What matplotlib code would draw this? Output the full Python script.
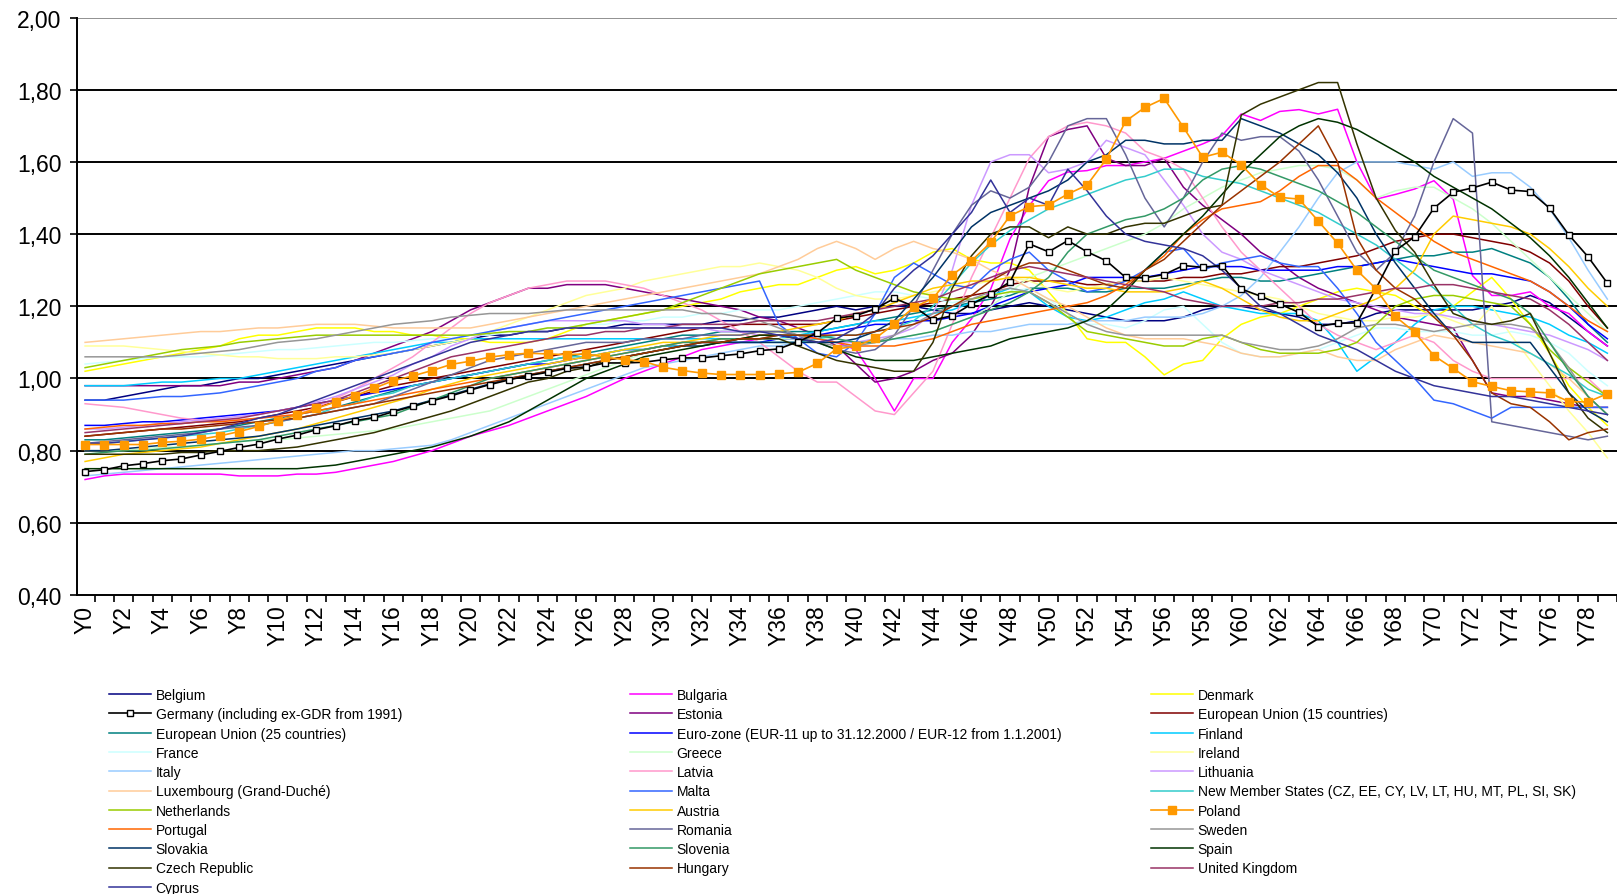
import numpy as np
import matplotlib
matplotlib.use("Agg")
import matplotlib.pyplot as plt

plt.rcParams['font.family'] = ['Liberation Sans', 'DejaVu Sans']

# categories
years = ["Y" + str(i) for i in range(80)]
ytick_vals = [0.40, 0.60, 0.80, 1.00, 1.20, 1.40, 1.60, 1.80, 2.00]
ytick_labels = ["0,40", "0,60", "0,80", "1,00", "1,20", "1,40", "1,60", "1,80", "2,00"]

# series values
belgium = [0.94,0.94,0.95,0.96,0.97,0.98,0.98,0.99,1.00,1.00,
           1.01,1.02,1.03,1.04,1.05,1.06,1.07,1.08,1.09,1.10,
           1.11,1.12,1.12,1.13,1.13,1.14,1.14,1.14,1.15,1.15,
           1.15,1.15,1.15,1.16,1.16,1.17,1.17,1.18,1.19,1.20,
           1.19,1.20,1.20,1.20,1.19,1.18,1.18,1.19,1.20,1.21,
           1.20,1.19,1.18,1.17,1.16,1.16,1.16,1.17,1.19,1.20,
           1.20,1.19,1.18,1.17,1.15,1.15,1.16,1.18,1.19,1.19,
           1.19,1.19,1.19,1.20,1.21,1.23,1.21,1.17,1.13,1.09]
bulgaria = [0.72,0.73,0.735,0.735,0.735,0.735,0.735,0.735,0.73,0.73,
            0.73,0.735,0.735,0.74,0.75,0.76,0.77,0.785,0.80,0.82,
            0.84,0.855,0.87,0.89,0.91,0.93,0.95,0.975,1.00,1.02,
            1.04,1.06,1.08,1.09,1.10,1.11,1.11,1.12,1.11,1.10,
            1.08,1.00,0.91,1.00,1.00,1.10,1.165,1.248,1.387,1.479,
            1.548,1.572,1.576,1.59,1.59,1.60,1.61,1.63,1.65,1.673,
            1.733,1.715,1.74,1.745,1.733,1.746,1.60,1.497,1.51,1.525,
            1.548,1.497,1.285,1.23,1.23,1.24,1.20,1.18,1.13,1.09]
denmark = [1.02,1.03,1.04,1.05,1.06,1.07,1.08,1.09,1.11,1.12,
           1.12,1.13,1.14,1.14,1.14,1.13,1.13,1.12,1.12,1.11,
           1.11,1.10,1.10,1.10,1.11,1.13,1.15,1.16,1.17,1.18,
           1.19,1.20,1.21,1.22,1.24,1.25,1.26,1.26,1.28,1.30,
           1.31,1.29,1.30,1.32,1.35,1.36,1.33,1.32,1.32,1.30,
           1.24,1.18,1.11,1.10,1.10,1.06,1.01,1.04,1.05,1.11,
           1.15,1.17,1.18,1.20,1.22,1.24,1.25,1.24,1.23,1.20,
           1.17,1.20,1.24,1.28,1.22,1.15,1.07,0.98,0.92,0.87]
germany = [0.742,0.747,0.758,0.764,0.772,0.777,0.788,0.798,0.809,0.818,
           0.832,0.843,0.858,0.869,0.883,0.892,0.908,0.923,0.938,0.952,
           0.968,0.983,0.996,1.008,1.017,1.028,1.032,1.043,1.043,1.045,
           1.052,1.057,1.057,1.063,1.068,1.077,1.082,1.102,1.126,1.167,
           1.174,1.193,1.222,1.200,1.162,1.174,1.206,1.233,1.268,1.373,
           1.351,1.382,1.351,1.326,1.280,1.279,1.288,1.313,1.308,1.313,
           1.248,1.228,1.206,1.183,1.144,1.153,1.154,1.250,1.354,1.393,
           1.472,1.516,1.528,1.544,1.522,1.518,1.472,1.398,1.337,1.264]
estonia = [0.98,0.98,0.98,0.98,0.98,0.98,0.98,0.98,0.99,0.99,
           1.00,1.01,1.02,1.03,1.05,1.07,1.09,1.11,1.13,1.16,
           1.19,1.21,1.23,1.25,1.25,1.26,1.26,1.26,1.25,1.24,
           1.23,1.22,1.21,1.20,1.19,1.17,1.16,1.14,1.12,1.09,
           1.04,0.99,1.00,1.02,1.05,1.07,1.12,1.20,1.30,1.53,
           1.67,1.69,1.70,1.61,1.59,1.59,1.61,1.53,1.48,1.44,
           1.40,1.35,1.32,1.28,1.25,1.23,1.21,1.19,1.17,1.16,
           1.15,1.14,1.05,0.96,0.95,0.95,0.94,0.93,0.92,0.92]
eu15 = [0.84,0.845,0.85,0.855,0.86,0.865,0.87,0.875,0.88,0.89,
        0.90,0.91,0.92,0.935,0.95,0.965,0.98,0.99,1.00,1.01,
        1.02,1.03,1.04,1.05,1.06,1.07,1.08,1.09,1.10,1.11,
        1.12,1.13,1.14,1.14,1.15,1.15,1.15,1.15,1.15,1.16,
        1.17,1.18,1.19,1.20,1.21,1.22,1.23,1.24,1.26,1.27,
        1.27,1.27,1.26,1.26,1.27,1.27,1.27,1.28,1.28,1.29,
        1.29,1.30,1.31,1.31,1.32,1.33,1.34,1.36,1.38,1.39,
        1.40,1.40,1.39,1.38,1.37,1.35,1.32,1.27,1.20,1.14]
eu25 = [0.83,0.83,0.835,0.84,0.845,0.85,0.855,0.86,0.87,0.88,
        0.89,0.90,0.91,0.92,0.935,0.95,0.965,0.98,0.99,1.00,
        1.01,1.02,1.03,1.04,1.05,1.06,1.07,1.08,1.09,1.10,
        1.11,1.12,1.12,1.13,1.13,1.13,1.13,1.13,1.13,1.14,
        1.15,1.16,1.17,1.18,1.19,1.20,1.21,1.22,1.23,1.25,
        1.25,1.25,1.24,1.24,1.25,1.25,1.25,1.26,1.27,1.28,
        1.28,1.27,1.27,1.28,1.29,1.30,1.31,1.32,1.33,1.34,
        1.34,1.35,1.35,1.36,1.34,1.32,1.28,1.22,1.15,1.10]
eurozone = [0.87,0.87,0.875,0.88,0.88,0.885,0.89,0.895,0.90,0.905,
            0.91,0.92,0.93,0.94,0.95,0.96,0.97,0.98,0.99,1.00,
            1.01,1.02,1.03,1.04,1.04,1.05,1.06,1.07,1.08,1.08,
            1.09,1.09,1.10,1.10,1.10,1.10,1.11,1.11,1.12,1.13,
            1.14,1.15,1.15,1.16,1.16,1.17,1.18,1.20,1.22,1.24,
            1.25,1.26,1.28,1.28,1.28,1.28,1.29,1.30,1.31,1.31,
            1.31,1.30,1.30,1.30,1.30,1.31,1.31,1.32,1.33,1.32,
            1.31,1.30,1.29,1.29,1.28,1.27,1.24,1.20,1.15,1.11]
finland = [0.98,0.98,0.98,0.985,0.99,0.99,0.995,1.00,1.00,1.01,
           1.02,1.03,1.04,1.05,1.06,1.07,1.08,1.09,1.10,1.10,
           1.11,1.11,1.11,1.11,1.11,1.11,1.11,1.11,1.11,1.11,
           1.11,1.11,1.11,1.11,1.11,1.11,1.11,1.12,1.13,1.14,
           1.15,1.16,1.16,1.17,1.18,1.19,1.21,1.23,1.25,1.24,
           1.20,1.17,1.16,1.17,1.19,1.21,1.22,1.24,1.22,1.20,
           1.19,1.18,1.18,1.18,1.16,1.10,1.02,1.06,1.10,1.15,
           1.19,1.20,1.20,1.19,1.18,1.17,1.15,1.12,1.10,1.07]
france = [1.04,1.045,1.05,1.055,1.06,1.06,1.06,1.065,1.07,1.075,
          1.08,1.08,1.085,1.09,1.095,1.10,1.10,1.105,1.11,1.11,
          1.12,1.12,1.13,1.13,1.14,1.14,1.15,1.15,1.16,1.16,
          1.17,1.17,1.18,1.18,1.19,1.19,1.19,1.20,1.21,1.22,
          1.23,1.24,1.24,1.23,1.22,1.21,1.22,1.23,1.24,1.25,
          1.22,1.18,1.15,1.15,1.14,1.16,1.19,1.20,1.15,1.10,
          1.07,1.06,1.06,1.07,1.08,1.10,1.12,1.14,1.14,1.13,
          1.13,1.13,1.12,1.12,1.13,1.12,1.10,1.07,1.02,0.98]
greece = [0.80,0.80,0.80,0.805,0.81,0.81,0.815,0.82,0.825,0.83,
          0.83,0.835,0.84,0.845,0.85,0.855,0.86,0.87,0.88,0.89,
          0.90,0.91,0.93,0.95,0.97,0.99,1.01,1.03,1.05,1.07,
          1.08,1.09,1.10,1.10,1.11,1.11,1.11,1.11,1.11,1.11,
          1.10,1.10,1.11,1.12,1.13,1.15,1.17,1.20,1.24,1.28,
          1.30,1.32,1.34,1.36,1.38,1.40,1.43,1.47,1.50,1.53,
          1.55,1.57,1.58,1.59,1.59,1.58,1.55,1.50,1.52,1.53,
          1.53,1.50,1.47,1.43,1.38,1.33,1.28,1.23,1.18,1.13]
ireland = [1.09,1.09,1.09,1.085,1.08,1.075,1.07,1.065,1.06,1.06,
           1.055,1.055,1.055,1.06,1.06,1.065,1.07,1.08,1.09,1.10,
           1.11,1.13,1.15,1.17,1.19,1.21,1.23,1.24,1.25,1.27,
           1.28,1.29,1.30,1.31,1.31,1.32,1.31,1.30,1.28,1.25,
           1.23,1.22,1.22,1.23,1.24,1.25,1.26,1.27,1.28,1.27,
           1.25,1.24,1.25,1.26,1.27,1.27,1.28,1.27,1.26,1.25,
           1.24,1.23,1.22,1.20,1.18,1.17,1.16,1.16,1.17,1.17,
           1.18,1.16,1.14,1.20,1.12,1.05,0.98,0.91,0.85,0.78]
italy = [0.73,0.735,0.74,0.745,0.75,0.755,0.76,0.765,0.77,0.775,
         0.78,0.785,0.79,0.795,0.80,0.80,0.805,0.81,0.815,0.83,
         0.85,0.87,0.89,0.91,0.93,0.95,0.97,0.99,1.01,1.03,
         1.04,1.05,1.06,1.07,1.08,1.09,1.09,1.10,1.10,1.10,
         1.10,1.10,1.11,1.11,1.12,1.12,1.13,1.13,1.14,1.15,
         1.15,1.15,1.16,1.16,1.16,1.17,1.17,1.17,1.18,1.20,
         1.23,1.28,1.35,1.42,1.50,1.57,1.60,1.60,1.60,1.59,
         1.58,1.60,1.56,1.57,1.57,1.53,1.47,1.39,1.30,1.22]
latvia = [0.93,0.925,0.92,0.91,0.90,0.89,0.885,0.885,0.885,0.89,
          0.895,0.90,0.92,0.945,0.97,1.00,1.03,1.06,1.10,1.14,
          1.18,1.21,1.23,1.25,1.26,1.27,1.27,1.27,1.26,1.25,
          1.23,1.21,1.19,1.16,1.13,1.10,1.06,1.02,0.99,0.99,
          0.95,0.91,0.90,0.96,1.02,1.15,1.28,1.39,1.50,1.61,
          1.67,1.70,1.71,1.70,1.68,1.63,1.61,1.58,1.50,1.42,
          1.35,1.30,1.25,1.20,1.15,1.12,1.10,1.08,1.10,1.12,
          1.10,1.05,1.02,1.00,1.00,1.00,1.00,1.00,1.00,0.95]
lithuania = [0.86,0.86,0.865,0.87,0.875,0.88,0.885,0.89,0.895,0.90,
             0.91,0.92,0.935,0.95,0.97,0.99,1.01,1.04,1.06,1.09,
             1.11,1.13,1.14,1.15,1.16,1.16,1.16,1.16,1.16,1.15,
             1.15,1.14,1.14,1.13,1.13,1.12,1.12,1.11,1.11,1.10,
             1.10,1.11,1.12,1.14,1.18,1.30,1.48,1.60,1.62,1.62,
             1.57,1.58,1.60,1.66,1.64,1.62,1.55,1.48,1.40,1.35,
             1.33,1.30,1.28,1.26,1.24,1.22,1.21,1.20,1.19,1.18,
             1.18,1.17,1.16,1.15,1.14,1.13,1.12,1.10,1.08,1.05]
luxembourg = [1.10,1.105,1.11,1.115,1.12,1.125,1.13,1.13,1.135,1.14,
              1.14,1.145,1.15,1.15,1.15,1.145,1.14,1.14,1.14,1.14,
              1.14,1.15,1.16,1.17,1.18,1.19,1.20,1.21,1.22,1.23,
              1.24,1.25,1.26,1.27,1.28,1.29,1.31,1.33,1.36,1.38,
              1.36,1.33,1.36,1.38,1.36,1.35,1.33,1.30,1.28,1.25,
              1.22,1.20,1.17,1.14,1.12,1.11,1.11,1.11,1.10,1.09,
              1.07,1.06,1.06,1.07,1.08,1.06,1.05,1.05,1.08,1.10,
              1.12,1.11,1.10,1.09,1.08,1.07,1.04,1.00,0.95,0.90]
malta = [0.94,0.94,0.94,0.945,0.95,0.95,0.955,0.96,0.97,0.98,
         0.99,1.00,1.02,1.03,1.05,1.06,1.07,1.08,1.10,1.11,
         1.12,1.13,1.14,1.15,1.16,1.17,1.18,1.19,1.20,1.21,
         1.22,1.23,1.24,1.25,1.26,1.27,1.15,1.11,1.07,1.06,
         1.10,1.18,1.28,1.32,1.29,1.26,1.25,1.30,1.33,1.35,
         1.30,1.27,1.24,1.25,1.27,1.30,1.35,1.36,1.30,1.32,
         1.33,1.34,1.32,1.31,1.31,1.25,1.18,1.10,1.05,1.00,
         0.94,0.93,0.91,0.89,0.92,0.92,0.92,0.92,0.92,0.92]
nms = [0.82,0.82,0.825,0.83,0.835,0.84,0.845,0.85,0.86,0.87,
       0.88,0.89,0.90,0.92,0.93,0.95,0.96,0.98,0.99,1.00,
       1.01,1.02,1.03,1.04,1.05,1.06,1.06,1.07,1.08,1.08,
       1.09,1.09,1.10,1.10,1.10,1.10,1.10,1.10,1.11,1.12,
       1.12,1.13,1.14,1.16,1.20,1.26,1.32,1.37,1.41,1.44,
       1.47,1.49,1.51,1.53,1.55,1.56,1.58,1.58,1.56,1.55,
       1.54,1.52,1.50,1.48,1.46,1.43,1.40,1.37,1.33,1.29,
       1.25,1.20,1.15,1.12,1.10,1.07,1.04,1.01,0.97,0.95]
netherlands = [1.03,1.04,1.05,1.06,1.07,1.08,1.085,1.09,1.10,1.105,
               1.11,1.115,1.12,1.12,1.12,1.12,1.12,1.12,1.12,1.12,
               1.12,1.125,1.13,1.13,1.14,1.14,1.15,1.16,1.17,1.18,
               1.19,1.21,1.23,1.25,1.27,1.29,1.30,1.31,1.32,1.33,
               1.30,1.28,1.26,1.24,1.23,1.22,1.22,1.23,1.24,1.24,
               1.21,1.17,1.13,1.12,1.11,1.10,1.09,1.09,1.11,1.12,
               1.10,1.08,1.07,1.07,1.07,1.08,1.10,1.15,1.20,1.22,
               1.23,1.23,1.22,1.21,1.20,1.15,1.08,1.03,0.99,0.95]
austria = [0.77,0.78,0.79,0.795,0.80,0.805,0.81,0.82,0.83,0.84,
           0.85,0.86,0.875,0.89,0.905,0.92,0.935,0.95,0.97,0.985,
           1.00,1.01,1.02,1.03,1.04,1.05,1.06,1.07,1.08,1.09,
           1.10,1.10,1.11,1.12,1.12,1.13,1.13,1.14,1.15,1.16,
           1.18,1.19,1.21,1.23,1.25,1.26,1.27,1.27,1.28,1.28,
           1.27,1.26,1.25,1.25,1.24,1.24,1.24,1.25,1.27,1.25,
           1.22,1.19,1.17,1.16,1.16,1.18,1.20,1.22,1.25,1.30,
           1.40,1.45,1.44,1.43,1.42,1.40,1.36,1.31,1.25,1.20]
poland = [0.817,0.817,0.817,0.817,0.823,0.826,0.832,0.841,0.853,0.867,
          0.883,0.899,0.917,0.935,0.952,0.973,0.994,1.007,1.022,1.039,
          1.048,1.059,1.066,1.070,1.068,1.066,1.068,1.059,1.052,1.047,
          1.031,1.022,1.015,1.011,1.011,1.011,1.013,1.017,1.042,1.082,
          1.089,1.111,1.151,1.197,1.222,1.287,1.326,1.377,1.451,1.476,
          1.481,1.511,1.536,1.608,1.713,1.751,1.776,1.696,1.613,1.627,
          1.592,1.537,1.502,1.497,1.436,1.375,1.300,1.248,1.172,1.128,
          1.063,1.028,0.991,0.978,0.966,0.963,0.960,0.936,0.935,0.958]
portugal = [0.86,0.865,0.87,0.87,0.875,0.875,0.88,0.88,0.885,0.89,
            0.895,0.90,0.91,0.92,0.93,0.94,0.95,0.96,0.97,0.98,
            0.99,1.00,1.01,1.02,1.03,1.04,1.05,1.06,1.07,1.08,
            1.09,1.10,1.10,1.11,1.11,1.12,1.12,1.12,1.11,1.10,
            1.09,1.09,1.09,1.10,1.11,1.13,1.15,1.16,1.17,1.18,
            1.19,1.20,1.21,1.23,1.26,1.30,1.34,1.40,1.44,1.47,
            1.48,1.49,1.52,1.56,1.59,1.59,1.55,1.50,1.46,1.42,
            1.38,1.35,1.33,1.31,1.29,1.27,1.24,1.20,1.16,1.13]
romania = [0.82,0.825,0.83,0.835,0.84,0.845,0.85,0.86,0.865,0.87,
           0.88,0.89,0.90,0.91,0.92,0.93,0.95,0.97,0.99,1.01,
           1.03,1.05,1.06,1.07,1.08,1.09,1.10,1.10,1.10,1.11,
           1.11,1.11,1.12,1.12,1.12,1.13,1.13,1.12,1.10,1.08,
           1.07,1.08,1.12,1.20,1.30,1.40,1.48,1.52,1.50,1.53,
           1.60,1.70,1.72,1.72,1.62,1.50,1.42,1.50,1.60,1.68,
           1.66,1.67,1.67,1.63,1.55,1.45,1.35,1.30,1.35,1.45,
           1.60,1.72,1.68,0.88,0.87,0.86,0.85,0.84,0.83,0.84]
sweden = [1.06,1.06,1.06,1.06,1.06,1.065,1.07,1.075,1.08,1.09,
          1.10,1.105,1.11,1.12,1.13,1.14,1.15,1.155,1.16,1.17,
          1.175,1.18,1.18,1.18,1.185,1.19,1.19,1.19,1.19,1.19,
          1.19,1.19,1.18,1.18,1.17,1.16,1.14,1.12,1.10,1.09,
          1.09,1.10,1.12,1.15,1.18,1.20,1.22,1.24,1.25,1.24,
          1.21,1.18,1.15,1.13,1.12,1.12,1.12,1.12,1.12,1.12,
          1.10,1.09,1.08,1.08,1.09,1.11,1.14,1.15,1.15,1.14,
          1.13,1.14,1.15,1.15,1.15,1.14,1.10,1.03,0.95,0.90]
slovakia = [0.80,0.80,0.805,0.81,0.815,0.82,0.825,0.83,0.835,0.84,
            0.85,0.86,0.87,0.88,0.89,0.90,0.91,0.925,0.94,0.955,
            0.97,0.985,1.00,1.01,1.02,1.03,1.04,1.05,1.06,1.07,
            1.08,1.09,1.09,1.10,1.10,1.10,1.10,1.10,1.10,1.10,
            1.11,1.13,1.16,1.22,1.28,1.35,1.42,1.46,1.48,1.50,
            1.52,1.55,1.60,1.62,1.66,1.66,1.65,1.65,1.66,1.66,
            1.72,1.70,1.68,1.65,1.62,1.57,1.50,1.40,1.32,1.25,
            1.18,1.12,1.10,1.10,1.10,1.10,1.03,0.96,0.91,0.88]
slovenia = [0.79,0.795,0.80,0.80,0.805,0.81,0.815,0.82,0.825,0.83,
            0.84,0.85,0.86,0.87,0.88,0.89,0.90,0.92,0.94,0.96,
            0.98,1.00,1.01,1.02,1.03,1.04,1.05,1.06,1.07,1.08,
            1.09,1.10,1.10,1.11,1.11,1.11,1.12,1.12,1.12,1.11,
            1.10,1.10,1.11,1.12,1.13,1.15,1.17,1.19,1.21,1.24,
            1.28,1.35,1.40,1.42,1.44,1.45,1.47,1.50,1.55,1.58,
            1.59,1.58,1.56,1.54,1.52,1.49,1.46,1.42,1.38,1.34,
            1.30,1.28,1.26,1.24,1.22,1.18,1.10,1.02,0.95,0.90]
spain = [0.75,0.75,0.75,0.75,0.75,0.75,0.75,0.75,0.75,0.75,
         0.75,0.75,0.755,0.76,0.77,0.78,0.79,0.80,0.81,0.825,
         0.84,0.86,0.88,0.91,0.94,0.97,1.00,1.02,1.04,1.06,
         1.07,1.08,1.09,1.10,1.11,1.12,1.12,1.11,1.10,1.08,
         1.06,1.05,1.05,1.05,1.06,1.07,1.08,1.09,1.11,1.12,
         1.13,1.14,1.16,1.19,1.24,1.30,1.35,1.40,1.45,1.51,
         1.57,1.62,1.67,1.70,1.72,1.71,1.69,1.66,1.63,1.60,
         1.56,1.53,1.50,1.47,1.43,1.39,1.34,1.28,1.21,1.14]
czech = [0.79,0.79,0.79,0.79,0.79,0.795,0.795,0.80,0.80,0.80,
         0.805,0.81,0.82,0.83,0.84,0.85,0.865,0.88,0.895,0.91,
         0.93,0.95,0.97,0.99,1.00,1.02,1.03,1.05,1.06,1.07,
         1.08,1.09,1.10,1.10,1.11,1.11,1.11,1.09,1.07,1.05,
         1.04,1.03,1.02,1.02,1.10,1.25,1.34,1.40,1.42,1.42,
         1.39,1.42,1.40,1.40,1.42,1.43,1.43,1.45,1.47,1.48,
         1.73,1.76,1.78,1.80,1.82,1.82,1.65,1.50,1.41,1.35,
         1.26,1.18,1.16,1.15,1.16,1.18,1.07,0.96,0.89,0.85]
hungary = [0.84,0.845,0.85,0.855,0.86,0.86,0.865,0.87,0.875,0.88,
           0.885,0.89,0.90,0.91,0.92,0.93,0.94,0.95,0.96,0.97,
           0.98,0.99,1.00,1.01,1.02,1.03,1.04,1.05,1.06,1.07,
           1.08,1.09,1.10,1.10,1.11,1.11,1.12,1.12,1.12,1.12,
           1.12,1.13,1.14,1.15,1.17,1.20,1.23,1.27,1.30,1.32,
           1.32,1.30,1.28,1.26,1.25,1.30,1.33,1.38,1.43,1.48,
           1.52,1.56,1.60,1.65,1.70,1.60,1.39,1.30,1.25,1.22,
           1.17,1.12,1.05,0.96,0.93,0.92,0.88,0.83,0.85,0.86]
uk = [0.85,0.855,0.86,0.865,0.87,0.875,0.88,0.885,0.89,0.90,
      0.91,0.92,0.93,0.94,0.96,0.98,1.00,1.02,1.04,1.06,
      1.07,1.08,1.09,1.10,1.11,1.12,1.12,1.13,1.13,1.14,
      1.14,1.15,1.15,1.15,1.15,1.16,1.16,1.16,1.16,1.17,
      1.18,1.19,1.20,1.21,1.22,1.24,1.26,1.28,1.30,1.31,
      1.30,1.29,1.28,1.27,1.26,1.25,1.24,1.22,1.21,1.20,
      1.20,1.20,1.21,1.21,1.22,1.22,1.23,1.24,1.25,1.25,
      1.26,1.26,1.25,1.24,1.23,1.22,1.19,1.15,1.10,1.05]
cyprus = [0.82,0.82,0.825,0.83,0.835,0.84,0.85,0.86,0.875,0.89,
          0.90,0.92,0.94,0.96,0.98,1.00,1.02,1.04,1.06,1.08,
          1.10,1.11,1.12,1.13,1.13,1.14,1.14,1.14,1.14,1.14,
          1.14,1.14,1.14,1.14,1.13,1.13,1.12,1.11,1.10,1.11,
          1.14,1.18,1.25,1.30,1.34,1.40,1.46,1.55,1.46,1.50,
          1.48,1.58,1.52,1.45,1.40,1.38,1.37,1.36,1.34,1.30,
          1.25,1.20,1.18,1.15,1.12,1.10,1.08,1.05,1.02,1.00,
          0.98,0.97,0.96,0.95,0.95,0.94,0.93,0.92,0.91,0.90]

# drawing order = legend order read row by row
series = [
    ("Belgium", belgium, "#000080"),
    ("Bulgaria", bulgaria, "#FF00FF"),
    ("Denmark", denmark, "#FFFF00"),
    ("Germany (including ex-GDR from 1991)", germany, "#000000"),
    ("Estonia", estonia, "#800080"),
    ("European Union (15 countries)", eu15, "#800000"),
    ("European Union (25 countries)", eu25, "#008080"),
    ("Euro-zone (EUR-11 up to 31.12.2000 / EUR-12 from 1.1.2001)", eurozone, "#0000FF"),
    ("Finland", finland, "#00CCFF"),
    ("France", france, "#CCFFFF"),
    ("Greece", greece, "#CCFFCC"),
    ("Ireland", ireland, "#FFFF99"),
    ("Italy", italy, "#99CCFF"),
    ("Latvia", latvia, "#FF99CC"),
    ("Lithuania", lithuania, "#CC99FF"),
    ("Luxembourg (Grand-Duché)", luxembourg, "#FFCC99"),
    ("Malta", malta, "#3366FF"),
    ("New Member States (CZ, EE, CY, LV, LT, HU, MT, PL, SI, SK)", nms, "#33CCCC"),
    ("Netherlands", netherlands, "#99CC00"),
    ("Austria", austria, "#FFCC00"),
    ("Poland", poland, "#FF9900"),
    ("Portugal", portugal, "#FF6600"),
    ("Romania", romania, "#666699"),
    ("Sweden", sweden, "#969696"),
    ("Slovakia", slovakia, "#003366"),
    ("Slovenia", slovenia, "#339966"),
    ("Spain", spain, "#003300"),
    ("Czech Republic", czech, "#333300"),
    ("Hungary", hungary, "#993300"),
    ("United Kingdom", uk, "#993366"),
    ("Cyprus", cyprus, "#333399"),
]

W, H = 1617, 895
fig = plt.figure(figsize=(W / 100, H / 100), dpi=100)
ax = fig.add_axes([77 / W, 1 - 596 / H, 1540 / W, (596 - 18.6) / H])

x = np.arange(len(years))
handles = []
for name, vals, col in series:
    assert len(vals) == len(years), name
    if name.startswith("Germany"):
        h, = ax.plot(x, vals, color=col, lw=1.2, marker="s", ms=4.5,
                     mfc="white", mec="black", mew=1.0, zorder=3, label=name)
    elif name == "Poland":
        h, = ax.plot(x, vals, color=col, lw=1.2, marker="s", ms=5.5,
                     mfc=col, mec=col, zorder=3, label=name)
    else:
        h, = ax.plot(x, vals, color=col, lw=1.1, zorder=2, label=name)
    handles.append(h)

# horizontal gridlines
for v in ytick_vals[1:-1]:
    ax.axhline(v, color="black", lw=1.4, zorder=1)
ax.axhline(2.0, color="#909090", lw=1.4, zorder=1)

ax.set_xlim(-0.42, 79.42)
ax.set_ylim(0.40, 2.00)

ax.set_yticks(ytick_vals)
ax.set_yticklabels(ytick_labels, fontsize=16.5)
ax.tick_params(axis="y", direction="out", length=5, width=1.2, pad=6)

ax.set_xticks(np.arange(0.5, 80, 1))
ax.set_xticklabels([])
ax.set_xticks(x[::2], minor=True)
ax.set_xticklabels(years[::2], minor=True, rotation=90, fontsize=16.5)
ax.tick_params(axis="x", which="major", direction="out", length=5, width=1.2)
ax.tick_params(axis="x", which="minor", length=0, pad=7)

for s in ["top", "right"]:
    ax.spines[s].set_visible(False)
ax.spines["left"].set_linewidth(1.4)
ax.spines["bottom"].set_linewidth(1.4)

# legend: three columns, filled row by row
col_x = [109 / W, 630 / W, 1151 / W]
for k in range(3):
    hs = handles[k::3]
    leg = fig.legend(hs, [h.get_label() for h in hs], loc="upper left",
                     bbox_to_anchor=(col_x[k], 1 - 689 / H), frameon=False,
                     fontsize=10, handlelength=3.0, handletextpad=0.35,
                     labelspacing=0.38, borderpad=0, borderaxespad=0)

fig.savefig("out.png", dpi=100)
